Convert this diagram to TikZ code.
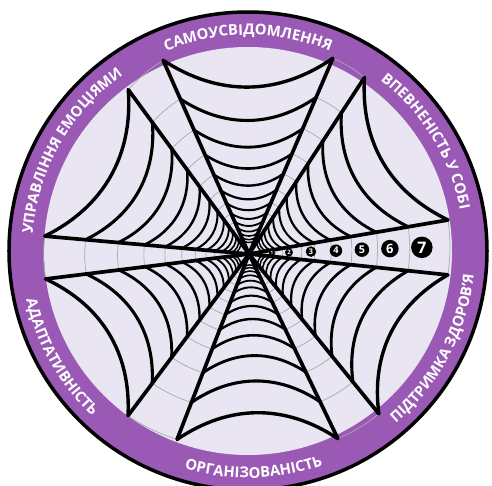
\documentclass[tikz,border=0pt]{standalone}
\usepackage{fontspec}
\setmainfont{Open Sans}
\usepackage{tikz}
\usetikzlibrary{decorations.text}
\definecolor{bandPurple}{RGB}{155,89,182}
\definecolor{webLilac}{RGB}{233,229,243}
\definecolor{threadGray}{RGB}{170,170,170}

\begin{document}
\begin{tikzpicture}[x=1pt, y=1pt,
  spoke/.style={line width=3.7pt, line cap=round},
  gapthread/.style={threadGray, line width=0.7pt},
  numdot/.style={circle, fill=black, text=white, inner sep=0pt,
                 minimum size=#1},
  bandtext/.style={decorate, decoration={text along path,
                 text align=center, text color=white,
                 text={|\bfseries\fontsize{14.8}{14.8}\selectfont|#1}}}
]
  \useasboundingbox (-248,-234) rectangle (244,251);
  \clip (-248,-234) rectangle (244,251);

  % disc and band
  \fill[bandPurple] (0,0) circle[radius=239];
  \draw[line width=3.5pt] (0,0) circle[radius=239];
  \fill[webLilac] (0,0) circle[radius=204];

  % band texts
  \path[bandtext=САМОУСВІДОМЛЕННЯ]
    (150:216) arc[start angle=150, end angle=30, radius=216];
  \path[bandtext=ВПЕВНЕНІСТЬ У СОБІ]
    (91.6:216) arc[start angle=91.6, end angle=-28.4, radius=216];
  \path[bandtext=УПРАВЛІННЯ ЕМОЦІЯМИ]
    (210.4:216) arc[start angle=210.4, end angle=90.4, radius=216];
  \path[bandtext=ОРГАНІЗОВАНІСТЬ]
    (-148.5:227) arc[start angle=-148.5, end angle=-28.5, radius=227];
  \path[bandtext=ПІДТРИМКА ЗДОРОВ’Я]
    (-87.7:227) arc[start angle=-87.7, end angle=32.3, radius=227];
  \path[bandtext=АДАПТАТИВНІСТЬ]
    (149.5:227) arc[start angle=149.5, end angle=269.5, radius=227];

  % web
  \coordinate (hub) at (1,-3);
  \foreach \w/\ai/\ri/\aii/\rii in {A/66.8/213/113.9/212, B/9.7/202/56.8/211,
        C/-50.9/206/-6/200, D/-111.2/199/-64.3/205,
        E/-173/205/-126.8/202, F/126.3/204/175/205}{
    \foreach \k in {0,...,12}{
      \pgfmathsetmacro\ra{\ri*0.8^\k}
      \pgfmathsetmacro\rb{\rii*0.8^\k}
      \pgfmathsetmacro\lw{0.9+2.5*0.88^\k}
      \coordinate (\w-\k-a) at ([shift={(\ai:\ra)}]hub);
      \coordinate (\w-\k-b) at ([shift={(\aii:\rb)}]hub);
      \draw[line width=\lw pt] (\w-\k-a) to[bend left=34] (\w-\k-b);
    }
  }
  \foreach \p/\q in {A/F, B/A, C/B, D/C, E/D, F/E}
    \foreach \k in {0,...,11}
      \draw[gapthread] (\p-\k-b) to[bend right=7] (\q-\k-a);
  \foreach \w in {A,B,C,D,E,F}{
    \draw[spoke] (hub) -- (\w-0-a);
    \draw[spoke] (hub) -- (\w-0-b);
  }

  % scale marks
  \foreach \n/\rr/\d in {1/23/6, 2/40/8, 3/62/10.5, 4/87/12.5,
                         5/113/14.5, 6/141/17.5, 7/173/21.5}{
    \pgfmathsetmacro\fs{0.74*\d}
    \node[numdot=\d pt, font={\bfseries\fontsize{\fs}{\fs}\selectfont}]
      (num-\n) at ([shift={(2.2:\rr)}]hub) {\n};
  }
\end{tikzpicture}
\end{document}
